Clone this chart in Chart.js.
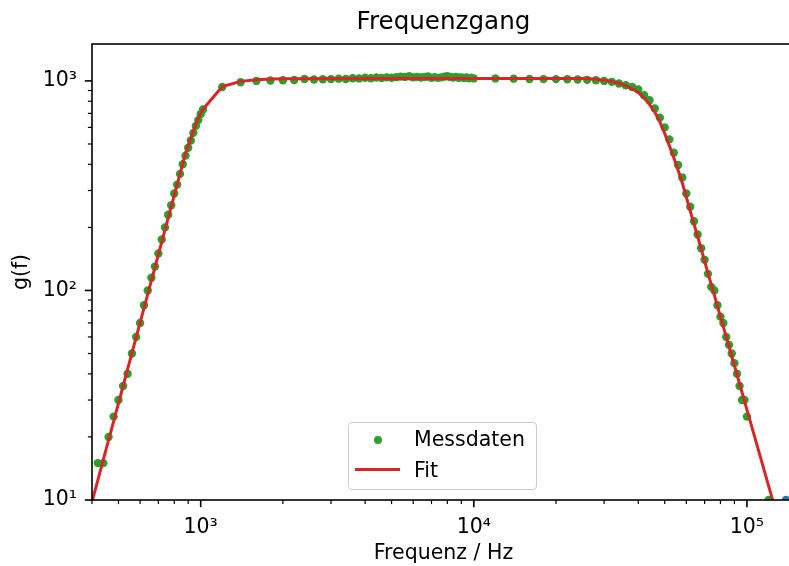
<!DOCTYPE html>
<html>
<head>
<meta charset="utf-8">
<script src="https://cdn.jsdelivr.net/npm/chart.js@4/dist/chart.umd.min.js"></script>
<style>
  html, body { margin: 0; padding: 0; background: #fff; overflow: hidden; }
  #wrap { position: relative; width: 810px; height: 566px; }
  #legend {
    position: absolute; left: 348px; top: 422px; width: 187px; height: 66px;
    border: 1px solid #cccccc; border-radius: 4px; background: rgba(255,255,255,0.8);
    font-family: 'DejaVu Sans'; font-size: 20.5px; color: #000;
  }
  #legend .dot { position: absolute; left: 24.5px; top: 12.5px; width: 8px; height: 8px; border-radius: 50%; background: #2ca02c; }
  #legend .line { position: absolute; left: 6px; top: 45px; width: 45px; height: 3px; background: #d62728; }
  #legend .lbl { position: absolute; left: 65px; line-height: 24px; white-space: nowrap; }
</style>
</head>
<body>
<div id="wrap">
  <canvas id="myChart" width="810" height="566"></canvas>
  <div id="legend">
    <span class="dot"></span><span class="lbl" style="top:4px">Messdaten</span>
    <span class="line"></span><span class="lbl" style="top:35px">Fit</span>
  </div>
</div>
<script>
// Messdaten
const dataFreq = [
  420, 440, 460, 480, 500, 520, 540, 560, 580, 600, 620, 640, 660, 680, 700, 720, 740, 760, 780, 800,
  820, 840, 860, 880, 900, 920, 940, 960, 980, 1000, 1020,
  1200, 1400, 1600, 1800, 2000, 2200, 2400, 2600, 2800, 3000, 3200, 3400, 3600, 3800, 4000, 4200, 4400,
  4600, 4800, 5000, 5200, 5400, 5600, 5800, 6000, 6200, 6400, 6600, 6800, 7000, 7200, 7400, 7600, 7800,
  8000, 8200, 8400, 8600, 8800, 9000, 9200, 9400, 9600, 9800, 10000,
  12000, 14000, 16000, 18000, 20000, 22000, 24000, 26000, 28000, 30000, 32000, 34000, 36000, 38000,
  40000, 42000, 44000, 46000, 48000, 50000, 52000, 54000, 56000, 58000, 60000, 62000, 64000, 66000,
  68000, 70000, 72000, 74000, 76000, 78000, 80000, 82000, 84000, 86000, 88000, 90000, 92000, 94000,
  96000, 98000, 100000,
  120000
];
const dataGain = [
  15, 15, 20, 25, 30, 35, 40, 50, 60, 70, 85, 100, 115, 130, 150, 175, 200, 230, 255, 290,
  320, 360, 400, 440, 480, 520, 565, 610, 650, 695, 730,
  935, 985, 1000, 1005, 1008, 1010, 1022, 1015, 1018, 1020, 1025, 1022, 1030, 1028, 1035, 1030, 1038,
  1032, 1040, 1035, 1042, 1048, 1045, 1052, 1040, 1046, 1038, 1044, 1050, 1036, 1042, 1034, 1040, 1048,
  1052, 1044, 1038, 1046, 1035, 1040, 1032, 1038, 1030, 1035, 1028,
  1028, 1025, 1022, 1020, 1020, 1018, 1015, 1012, 1008, 1000, 990, 972, 953, 936,
  910, 855, 809, 739, 668, 600, 526, 454, 397, 346, 290, 251, 214, 185,
  159, 140, 120, 104, 100, 85, 75, 70, 60, 55, 50, 45, 40, 35,
  30, 30, 25,
  10
];

// Fit
const fitFreq = [
  400, 420, 440, 460, 480, 500, 520, 540, 560, 580, 600, 620, 640, 660, 680, 700, 720, 740, 760, 780,
  800, 820, 840, 860, 880, 900, 920, 940, 960, 980, 1000, 1020,
  1200, 1400, 1600, 1800, 2000, 5000, 10000, 20000, 26000,
  28000, 30000, 32000, 34000, 36000, 38000, 40000, 42000, 44000, 46000, 48000, 50000, 52000, 54000,
  56000, 58000, 60000, 62000, 64000, 66000, 68000, 70000, 72000, 74000, 76000, 78000, 80000, 82000,
  84000, 86000, 88000, 90000, 92000, 94000, 96000, 98000, 100000,
  120000, 140000
];
const fitGain = [
  9.8, 12.4, 15.6, 19.3, 23.7, 28.9, 35.0, 42.1, 50.2, 59.5, 70.2, 82.4, 96.1, 111.5, 129, 148.5, 170, 194.5, 221.5, 251,
  284, 320, 360, 404, 452, 491, 533, 577, 624, 665, 702, 733,
  940, 995, 1012, 1020, 1025, 1027, 1027, 1027, 1026,
  1019, 1008, 995, 975, 950, 918, 881, 830, 772, 711, 638, 562, 491, 430,
  375, 326, 279, 240, 208, 181, 158, 138, 121, 107, 95, 84, 75, 67,
  60, 54, 48.5, 43.8, 39.6, 35.9, 32.6, 29.6, 27,
  11.7, 5.8
];

// extra point at the right edge
const extraFreq = [139000];
const extraGain = [10];

const xTickValues = [1000, 10000, 100000];
const xTickLabels = ['10³', '10⁴', '10⁵'];
const yTickValues = [10, 100, 1000];
const yTickLabels = ['10¹', '10²', '10³'];

function toPoints(xs, ys) {
  return xs.map((x, i) => ({ x: x, y: ys[i] }));
}
function labelFor(values, labels) {
  return function (value) {
    const i = values.findIndex(v => Math.abs(v - value) < v * 1e-6);
    return i >= 0 ? labels[i] : '';
  };
}

// spines and log tick marks like matplotlib
const frame = {
  id: 'frame',
  afterDatasetsDraw(chart) {
    const ctx = chart.ctx;
    const a = chart.chartArea;
    const xs = chart.scales.x, ys = chart.scales.y;
    ctx.save();
    ctx.strokeStyle = '#000';
    function marks(scale, horizontal) {
      const lo = Math.floor(Math.log10(scale.min)), hi = Math.ceil(Math.log10(scale.max));
      for (let e = lo; e <= hi; e++) {
        for (let m = 1; m <= 9; m++) {
          const v = m * Math.pow(10, e);
          if (v < scale.min * 0.9999 || v > scale.max * 1.0001) continue;
          const p = scale.getPixelForValue(v);
          const len = m === 1 ? 7.2 : 4.1;
          ctx.lineWidth = m === 1 ? 1.6 : 1.2;
          ctx.beginPath();
          if (horizontal) { ctx.moveTo(p, a.bottom); ctx.lineTo(p, a.bottom + len); }
          else { ctx.moveTo(a.left, p); ctx.lineTo(a.left - len, p); }
          ctx.stroke();
        }
      }
    }
    marks(xs, true);
    marks(ys, false);
    ctx.lineWidth = 1.6;
    ctx.strokeRect(a.left, a.top, a.right - a.left, a.bottom - a.top);
    ctx.restore();
  }
};

Chart.defaults.font.family = 'DejaVu Sans';
Chart.defaults.color = '#000';

const ctx = document.getElementById('myChart');
new Chart(ctx, {
  type: 'scatter',
  data: {
    datasets: [{
      label: 'Fit',
      data: toPoints(fitFreq, fitGain),
      showLine: true,
      borderColor: '#d62728',
      borderWidth: 3,
      pointRadius: 0,
      tension: 0,
      order: 0
    },
    {
      label: 'Messdaten',
      data: toPoints(dataFreq, dataGain),
      backgroundColor: '#2ca02c',
      borderWidth: 0,
      pointRadius: 4.2,
      order: 1
    },
    {
      label: '',
      data: toPoints(extraFreq, extraGain),
      backgroundColor: '#1f77b4',
      borderWidth: 0,
      pointRadius: 4.2,
      order: 2
    }]
  },
  plugins: [frame],
  options: {
    responsive: false,
    animation: false,
    devicePixelRatio: 1,
    events: [],
    layout: { padding: { left: 0, right: 14, top: 0, bottom: 0 } },
    plugins: {
      legend: { display: false },
      tooltip: { enabled: false },
      title: {
        display: true,
        text: 'Frequenzgang',
        fullSize: false,
        color: '#000',
        font: { size: 24.6, weight: 'normal' },
        padding: { top: 8, bottom: 6.5 }
      }
    },
    scales: {
      x: {
        type: 'logarithmic',
        position: 'bottom',
        min: 400,
        max: 150000,
        grid: { display: false, drawTicks: false },
        border: { display: false },
        ticks: {
          autoSkip: false, maxRotation: 0, padding: 15,
          font: { size: 20.5 }, color: '#000',
          callback: labelFor(xTickValues, xTickLabels)
        },
        title: { display: true, text: 'Frequenz / Hz', font: { size: 20.5 }, color: '#000', padding: { top: 0, bottom: 0 } },
        afterFit(scale) { scale.height = 66; }
      },
      y: {
        type: 'logarithmic',
        position: 'left',
        min: 10,
        max: 1500,
        grid: { display: false, drawTicks: false },
        border: { display: false },
        ticks: {
          autoSkip: false, padding: 15,
          font: { size: 20.5 }, color: '#000',
          callback: labelFor(yTickValues, yTickLabels)
        },
        title: { display: true, text: 'g(f)', font: { size: 20.5 }, color: '#000', padding: { top: 9.7, bottom: 0 } },
        afterFit(scale) { scale.width = 92; }
      }
    }
  }
});
</script>
</body>
</html>
